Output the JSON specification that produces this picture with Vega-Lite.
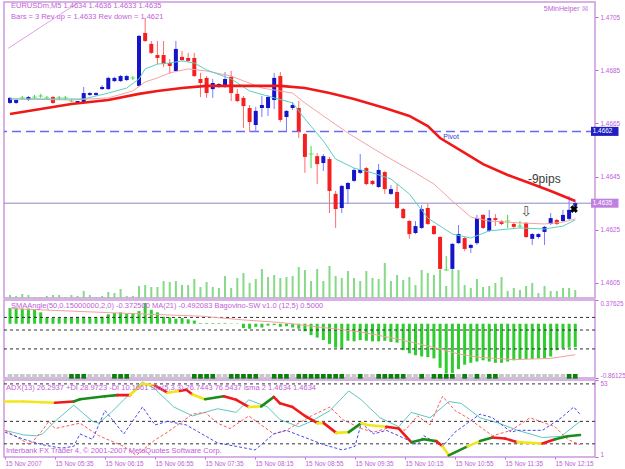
{
  "$schema": "https://vega.github.io/schema/vega-lite/v6.json",
  "background": "white",
  "padding": {"left": 2, "top": 1, "right": 0, "bottom": 0},
  "spacing": 2,
  "bounds": "flush",
  "config": {
    "font": "Liberation Sans",
    "view": {"stroke": "#cc99dd", "strokeWidth": 1.5},
    "axis": {"labelFont": "Liberation Sans", "labelFontSize": 6.4, "labelColor": "#c060d8", "tickColor": "#c060d8", "domain": false, "grid": false, "labelOverlap": false, "tickSize": 3, "labelPadding": 2}
  },
  "datasets": {
    "bars": [
      {"i":0,"o":1.46727,"h":1.46749,"l":1.46723,"c":1.46746,"v":9,"a":0.25,"s":0},
      {"i":1,"o":1.46727,"h":1.46742,"l":1.46723,"c":1.46738,"v":6,"a":0.25,"s":0},
      {"i":2,"o":1.46746,"h":1.46753,"l":1.46738,"c":1.46746,"v":12,"a":0.24,"s":0},
      {"i":3,"o":1.46738,"h":1.46753,"l":1.46734,"c":1.46749,"v":9,"a":0.24,"s":0},
      {"i":4,"o":1.46749,"h":1.46757,"l":1.46742,"c":1.46749,"v":3,"a":0.23,"s":0},
      {"i":5,"o":1.46753,"h":1.46761,"l":1.46746,"c":1.46753,"v":3,"a":0.18,"s":0},
      {"i":6,"o":1.46746,"h":1.46753,"l":1.46738,"c":1.46746,"v":6,"a":0.10,"s":0},
      {"i":7,"o":1.46749,"h":1.46753,"l":1.46723,"c":1.46727,"v":9,"a":0.09,"s":0},
      {"i":8,"o":1.46746,"h":1.46753,"l":1.46738,"c":1.46746,"v":9,"a":0.09,"s":0},
      {"i":9,"o":1.46746,"h":1.46753,"l":1.46738,"c":1.46746,"v":3,"a":0.10,"s":0},
      {"i":10,"o":1.46734,"h":1.46742,"l":1.46730,"c":1.46734,"v":9,"a":0.10,"s":1},
      {"i":11,"o":1.46727,"h":1.46734,"l":1.46723,"c":1.46734,"v":6,"a":0.11,"s":1},
      {"i":12,"o":1.46727,"h":1.46787,"l":1.46723,"c":1.46764,"v":21,"a":0.11,"s":1},
      {"i":13,"o":1.46757,"h":1.46768,"l":1.46753,"c":1.46764,"v":9,"a":0.10,"s":0},
      {"i":14,"o":1.46757,"h":1.46768,"l":1.46753,"c":1.46764,"v":3,"a":0.10,"s":0},
      {"i":15,"o":1.46779,"h":1.46794,"l":1.46776,"c":1.46787,"v":6,"a":0.11,"s":0},
      {"i":16,"o":1.46779,"h":1.46825,"l":1.46776,"c":1.46821,"v":18,"a":0.15,"s":0},
      {"i":17,"o":1.46809,"h":1.46825,"l":1.46806,"c":1.46821,"v":15,"a":0.17,"s":1},
      {"i":18,"o":1.46809,"h":1.46832,"l":1.46806,"c":1.46828,"v":27,"a":0.18,"s":1},
      {"i":19,"o":1.46813,"h":1.46832,"l":1.46809,"c":1.46828,"v":6,"a":0.16,"s":1},
      {"i":20,"o":1.46821,"h":1.46828,"l":1.46813,"c":1.46821,"v":6,"a":0.17,"s":0},
      {"i":21,"o":1.46791,"h":1.46982,"l":1.46787,"c":1.46979,"v":36,"a":0.20,"s":0},
      {"i":22,"o":1.46990,"h":1.47046,"l":1.46956,"c":1.46960,"v":39,"a":0.33,"s":0},
      {"i":23,"o":1.46949,"h":1.46960,"l":1.46911,"c":1.46915,"v":33,"a":0.22,"s":0},
      {"i":24,"o":1.46907,"h":1.46960,"l":1.46873,"c":1.46896,"v":33,"a":0.18,"s":0},
      {"i":25,"o":1.46907,"h":1.46960,"l":1.46862,"c":1.46873,"v":51,"a":0.11,"s":0},
      {"i":26,"o":1.46877,"h":1.46892,"l":1.46836,"c":1.46866,"v":48,"a":0.10,"s":0},
      {"i":27,"o":1.46847,"h":1.46960,"l":1.46843,"c":1.46930,"v":51,"a":0.08,"s":0},
      {"i":28,"o":1.46900,"h":1.46922,"l":1.46885,"c":1.46888,"v":39,"a":0.09,"s":0},
      {"i":29,"o":1.46896,"h":1.46915,"l":1.46881,"c":1.46885,"v":39,"a":0.07,"s":0},
      {"i":30,"o":1.46896,"h":1.46915,"l":1.46825,"c":1.46828,"v":57,"a":0.05,"s":1},
      {"i":31,"o":1.46817,"h":1.46840,"l":1.46749,"c":1.46802,"v":33,"a":0.01,"s":1},
      {"i":32,"o":1.46821,"h":1.46828,"l":1.46746,"c":1.46764,"v":48,"a":0.01,"s":1},
      {"i":33,"o":1.46779,"h":1.46817,"l":1.46746,"c":1.46802,"v":33,"a":0.01,"s":1},
      {"i":34,"o":1.46787,"h":1.46802,"l":1.46783,"c":1.46798,"v":30,"a":0.01,"s":0},
      {"i":35,"o":1.46787,"h":1.46843,"l":1.46783,"c":1.46817,"v":66,"a":0.01,"s":0},
      {"i":36,"o":1.46825,"h":1.46847,"l":1.46734,"c":1.46764,"v":30,"a":0.005,"s":1},
      {"i":37,"o":1.46761,"h":1.46779,"l":1.46730,"c":1.46734,"v":60,"a":0.005,"s":1},
      {"i":38,"o":1.46746,"h":1.46753,"l":1.46633,"c":1.46715,"v":75,"a":-0.07,"s":1},
      {"i":39,"o":1.46708,"h":1.46719,"l":1.46618,"c":1.46655,"v":45,"a":-0.08,"s":1},
      {"i":40,"o":1.46644,"h":1.46712,"l":1.46618,"c":1.46697,"v":57,"a":-0.05,"s":1},
      {"i":41,"o":1.46708,"h":1.46753,"l":1.46674,"c":1.46719,"v":87,"a":-0.06,"s":0},
      {"i":42,"o":1.46708,"h":1.46757,"l":1.46678,"c":1.46749,"v":63,"a":-0.03,"s":0},
      {"i":43,"o":1.46738,"h":1.46840,"l":1.46704,"c":1.46821,"v":69,"a":-0.02,"s":1},
      {"i":44,"o":1.46828,"h":1.46843,"l":1.46655,"c":1.46663,"v":60,"a":-0.05,"s":1},
      {"i":45,"o":1.46674,"h":1.46700,"l":1.46621,"c":1.46697,"v":63,"a":-0.04,"s":1},
      {"i":46,"o":1.46708,"h":1.46730,"l":1.46700,"c":1.46719,"v":66,"a":-0.06,"s":0},
      {"i":47,"o":1.46708,"h":1.46734,"l":1.46595,"c":1.46621,"v":93,"a":-0.08,"s":1},
      {"i":48,"o":1.46610,"h":1.46614,"l":1.46464,"c":1.46524,"v":84,"a":-0.12,"s":1},
      {"i":49,"o":1.46535,"h":1.46565,"l":1.46482,"c":1.46535,"v":51,"a":-0.18,"s":1},
      {"i":50,"o":1.46527,"h":1.46539,"l":1.46422,"c":1.46497,"v":87,"a":-0.22,"s":1},
      {"i":51,"o":1.46501,"h":1.46535,"l":1.46471,"c":1.46527,"v":51,"a":-0.26,"s":1},
      {"i":52,"o":1.46516,"h":1.46524,"l":1.46313,"c":1.46396,"v":96,"a":-0.32,"s":1},
      {"i":53,"o":1.46385,"h":1.46396,"l":1.46257,"c":1.46328,"v":66,"a":-0.38,"s":1},
      {"i":54,"o":1.46332,"h":1.46418,"l":1.46313,"c":1.46415,"v":60,"a":-0.40,"s":1},
      {"i":55,"o":1.46403,"h":1.46430,"l":1.46347,"c":1.46426,"v":81,"a":-0.27,"s":0},
      {"i":56,"o":1.46434,"h":1.46482,"l":1.46430,"c":1.46475,"v":60,"a":-0.28,"s":0},
      {"i":57,"o":1.46464,"h":1.46535,"l":1.46460,"c":1.46475,"v":51,"a":-0.26,"s":1},
      {"i":58,"o":1.46482,"h":1.46486,"l":1.46418,"c":1.46422,"v":81,"a":-0.27,"s":0},
      {"i":59,"o":1.46434,"h":1.46437,"l":1.46418,"c":1.46422,"v":60,"a":-0.28,"s":0},
      {"i":60,"o":1.46411,"h":1.46497,"l":1.46407,"c":1.46475,"v":57,"a":-0.28,"s":1},
      {"i":61,"o":1.46467,"h":1.46471,"l":1.46385,"c":1.46403,"v":105,"a":-0.27,"s":1},
      {"i":62,"o":1.46385,"h":1.46418,"l":1.46381,"c":1.46403,"v":51,"a":-0.29,"s":1},
      {"i":63,"o":1.46392,"h":1.46422,"l":1.46328,"c":1.46332,"v":69,"a":-0.30,"s":1},
      {"i":64,"o":1.46328,"h":1.46332,"l":1.46291,"c":1.46294,"v":54,"a":-0.42,"s":1},
      {"i":65,"o":1.46283,"h":1.46287,"l":1.46216,"c":1.46234,"v":63,"a":-0.47,"s":0},
      {"i":66,"o":1.46238,"h":1.46283,"l":1.46234,"c":1.46264,"v":39,"a":-0.50,"s":0},
      {"i":67,"o":1.46257,"h":1.46343,"l":1.46253,"c":1.46328,"v":84,"a":-0.52,"s":1},
      {"i":68,"o":1.46332,"h":1.46347,"l":1.46268,"c":1.46272,"v":75,"a":-0.53,"s":0},
      {"i":69,"o":1.46264,"h":1.46268,"l":1.46231,"c":1.46234,"v":69,"a":-0.55,"s":1},
      {"i":70,"o":1.46223,"h":1.46227,"l":1.46099,"c":1.46103,"v":84,"a":-0.70,"s":1},
      {"i":71,"o":1.46099,"h":1.46152,"l":1.46095,"c":1.46099,"v":36,"a":-0.79,"s":1},
      {"i":72,"o":1.46103,"h":1.46200,"l":1.46099,"c":1.46197,"v":84,"a":-0.78,"s":1},
      {"i":73,"o":1.46200,"h":1.46268,"l":1.46197,"c":1.46234,"v":84,"a":-0.72,"s":0},
      {"i":74,"o":1.46219,"h":1.46223,"l":1.46170,"c":1.46178,"v":39,"a":-0.65,"s":1},
      {"i":75,"o":1.46182,"h":1.46197,"l":1.46163,"c":1.46193,"v":30,"a":-0.62,"s":0},
      {"i":76,"o":1.46200,"h":1.46306,"l":1.46193,"c":1.46294,"v":57,"a":-0.60,"s":1},
      {"i":77,"o":1.46306,"h":1.46309,"l":1.46253,"c":1.46257,"v":33,"a":-0.58,"s":0},
      {"i":78,"o":1.46246,"h":1.46325,"l":1.46242,"c":1.46294,"v":36,"a":-0.60,"s":1},
      {"i":79,"o":1.46294,"h":1.46309,"l":1.46264,"c":1.46287,"v":45,"a":-0.62,"s":1},
      {"i":80,"o":1.46283,"h":1.46287,"l":1.46268,"c":1.46272,"v":63,"a":-0.62,"s":0},
      {"i":81,"o":1.46283,"h":1.46306,"l":1.46257,"c":1.46283,"v":21,"a":-0.60,"s":0},
      {"i":82,"o":1.46272,"h":1.46276,"l":1.46257,"c":1.46261,"v":30,"a":-0.58,"s":0},
      {"i":83,"o":1.46264,"h":1.46283,"l":1.46257,"c":1.46264,"v":24,"a":-0.56,"s":0},
      {"i":84,"o":1.46276,"h":1.46279,"l":1.46219,"c":1.46223,"v":36,"a":-0.56,"s":0},
      {"i":85,"o":1.46216,"h":1.46238,"l":1.46193,"c":1.46234,"v":45,"a":-0.56,"s":0},
      {"i":86,"o":1.46223,"h":1.46238,"l":1.46216,"c":1.46234,"v":15,"a":-0.55,"s":0},
      {"i":87,"o":1.46242,"h":1.46264,"l":1.46193,"c":1.46261,"v":36,"a":-0.55,"s":0},
      {"i":88,"o":1.46272,"h":1.46313,"l":1.46268,"c":1.46294,"v":21,"a":-0.52,"s":0},
      {"i":89,"o":1.46287,"h":1.46291,"l":1.46268,"c":1.46272,"v":21,"a":-0.42,"s":0},
      {"i":90,"o":1.46283,"h":1.46325,"l":1.46279,"c":1.46306,"v":30,"a":-0.39,"s":0},
      {"i":91,"o":1.46291,"h":1.46377,"l":1.46287,"c":1.46325,"v":30,"a":-0.38,"s":1},
      {"i":92,"o":1.4634,"h":1.4636,"l":1.4633,"c":1.4635,"v":24,"a":-0.3725,"s":1}
    ],
    "ma": [
      {"s":"slow","i":0,"p":1.46685},{"s":"slow","i":5,"p":1.46704},{"s":"slow","i":10,"p":1.46723},{"s":"slow","i":16,"p":1.46738},
      {"s":"slow","i":21,"p":1.46761},{"s":"slow","i":24,"p":1.46772},{"s":"slow","i":28,"p":1.46783},{"s":"slow","i":32,"p":1.46791},
      {"s":"slow","i":36,"p":1.46791},{"s":"slow","i":44,"p":1.46791},{"s":"slow","i":48,"p":1.46783},{"s":"slow","i":52,"p":1.46764},
      {"s":"slow","i":56,"p":1.46742},{"s":"slow","i":61,"p":1.46708},{"s":"slow","i":65,"p":1.46678},{"s":"slow","i":68,"p":1.46640},
      {"s":"slow","i":70,"p":1.46595},{"s":"slow","i":74,"p":1.46539},{"s":"slow","i":77,"p":1.46497},{"s":"slow","i":81,"p":1.46456},
      {"s":"slow","i":85,"p":1.46422},{"s":"slow","i":88,"p":1.46396},{"s":"slow","i":90,"p":1.46377},{"s":"slow","i":92,"p":1.46358},
      {"s":"mid","i":0,"p":1.46742},{"s":"mid","i":10,"p":1.46738},{"s":"mid","i":16,"p":1.46746},{"s":"mid","i":20,"p":1.46772},
      {"s":"mid","i":22,"p":1.46806},{"s":"mid","i":24,"p":1.46821},{"s":"mid","i":26,"p":1.46840},{"s":"mid","i":29,"p":1.46855},
      {"s":"mid","i":32,"p":1.46847},{"s":"mid","i":36,"p":1.46828},{"s":"mid","i":41,"p":1.46783},{"s":"mid","i":46,"p":1.46764},
      {"s":"mid","i":48,"p":1.46727},{"s":"mid","i":51,"p":1.46678},{"s":"mid","i":55,"p":1.46614},{"s":"mid","i":59,"p":1.46557},
      {"s":"mid","i":62,"p":1.46516},{"s":"mid","i":66,"p":1.46464},{"s":"mid","i":69,"p":1.46422},{"s":"mid","i":72,"p":1.46358},
      {"s":"mid","i":75,"p":1.46298},{"s":"mid","i":78,"p":1.46283},{"s":"mid","i":83,"p":1.46276},{"s":"mid","i":87,"p":1.46272},
      {"s":"mid","i":90,"p":1.46279},{"s":"mid","i":92,"p":1.46291},
      {"s":"fast","i":0,"p":1.46742},{"s":"fast","i":12,"p":1.46742},{"s":"fast","i":16,"p":1.46764},{"s":"fast","i":19,"p":1.46783},
      {"s":"fast","i":21,"p":1.46817},{"s":"fast","i":22,"p":1.46855},{"s":"fast","i":24,"p":1.46873},{"s":"fast","i":26,"p":1.46877},
      {"s":"fast","i":28,"p":1.46885},{"s":"fast","i":30,"p":1.46877},{"s":"fast","i":32,"p":1.46851},{"s":"fast","i":36,"p":1.46817},
      {"s":"fast","i":39,"p":1.46772},{"s":"fast","i":43,"p":1.46746},{"s":"fast","i":46,"p":1.46727},{"s":"fast","i":48,"p":1.46667},
      {"s":"fast","i":51,"p":1.46584},{"s":"fast","i":53,"p":1.46516},{"s":"fast","i":56,"p":1.46482},{"s":"fast","i":59,"p":1.46464},
      {"s":"fast","i":62,"p":1.46441},{"s":"fast","i":65,"p":1.46385},{"s":"fast","i":68,"p":1.46294},{"s":"fast","i":72,"p":1.46234},
      {"s":"fast","i":75,"p":1.46219},{"s":"fast","i":78,"p":1.46246},{"s":"fast","i":83,"p":1.46257},{"s":"fast","i":87,"p":1.46253},
      {"s":"fast","i":90,"p":1.46264},{"s":"fast","i":92,"p":1.46287}
    ],
    "trend": [{"i":-0.3,"p":1.46932},{"i":12.5,"p":1.47125}],
    "ma21": [
      {"i":0,"a":0.24},{"i":10,"a":0.2},{"i":20,"a":0.16},{"i":31,"a":0.12},{"i":38,"a":0.06},{"i":44,"a":0.02},
      {"i":50,"a":-0.05},{"i":57,"a":-0.13},{"i":63,"a":-0.24},{"i":70,"a":-0.40},{"i":73,"a":-0.48},{"i":76,"a":-0.53},
      {"i":82,"a":-0.57},{"i":88,"a":-0.55},{"i":92,"a":-0.492083}
    ],
    "adx": [
      {"i":0,"v":38.2,"k":"y"},{"i":3,"v":38.2,"k":"y"},{"i":6,"v":37.7,"k":"y"},{"i":8,"v":37.4,"k":"r"},{"i":11,"v":38.2,"k":"g"},
      {"i":12,"v":39.8,"k":"g"},{"i":16,"v":41.7,"k":"g"},{"i":18,"v":42.5,"k":"r"},{"i":20,"v":42.5,"k":"y"},{"i":22,"v":50.1,"k":"y"},
      {"i":24,"v":48.9,"k":"r"},{"i":26,"v":44.1,"k":"y"},{"i":28,"v":45.3,"k":"r"},{"i":29,"v":46.1,"k":"r"},{"i":30,"v":42.9,"k":"y"},
      {"i":32,"v":39.8,"k":"g"},{"i":35,"v":41.7,"k":"r"},{"i":37,"v":39.4,"k":"r"},{"i":39,"v":34.6,"k":"y"},{"i":41,"v":35,"k":"g"},
      {"i":43,"v":41.3,"k":"r"},{"i":44,"v":37,"k":"r"},{"i":46,"v":34.6,"k":"r"},{"i":48,"v":28.6,"k":"r"},{"i":50,"v":23.8,"k":"y"},
      {"i":51,"v":23.8,"k":"r"},{"i":53,"v":17.3,"k":"y"},{"i":55,"v":17.8,"k":"g"},{"i":57,"v":23.8,"k":"y"},{"i":58,"v":22.6,"k":"y"},
      {"i":61,"v":21.4,"k":"r"},{"i":63,"v":20.2,"k":"r"},{"i":65,"v":11.1,"k":"g"},{"i":67,"v":13,"k":"g"},{"i":69,"v":11.8,"k":"r"},
      {"i":70,"v":8.3,"k":"y"},{"i":71,"v":2.3,"k":"g"},{"i":74,"v":8.3,"k":"y"},{"i":76,"v":11.8,"k":"g"},{"i":78,"v":14.2,"k":"r"},
      {"i":80,"v":13.5,"k":"r"},{"i":82,"v":11.1,"k":"y"},{"i":86,"v":10.2,"k":"r"},{"i":88,"v":13,"k":"g"},{"i":90,"v":15,"k":"g"},
      {"i":92,"v":15.9,"k":"g"}
    ],
    "di": [
      {"s":"plus","i":0,"v":19},{"s":"plus","i":3,"v":15.9},{"s":"plus","i":5,"v":15.4},{"s":"plus","i":6,"v":16.6},{"s":"plus","i":8,"v":25},
      {"s":"plus","i":11,"v":35.8},{"s":"plus","i":14,"v":25},{"s":"plus","i":15,"v":23.8},{"s":"plus","i":17,"v":31},{"s":"plus","i":19,"v":39.4},
      {"s":"plus","i":22,"v":51.3},{"s":"plus","i":24,"v":46.5},{"s":"plus","i":27,"v":34.6},{"s":"plus","i":30,"v":28.6},{"s":"plus","i":31,"v":29.8},
      {"s":"plus","i":34,"v":33.4},{"s":"plus","i":37,"v":31},{"s":"plus","i":39,"v":39.4},{"s":"plus","i":42,"v":34.6},{"s":"plus","i":44,"v":26.2},
      {"s":"plus","i":47,"v":21.4},{"s":"plus","i":49,"v":25},{"s":"plus","i":52,"v":32.2},{"s":"plus","i":55,"v":45.3},{"s":"plus","i":57,"v":39.4},
      {"s":"plus","i":60,"v":27.4},{"s":"plus","i":63,"v":21.4},{"s":"plus","i":65,"v":31},{"s":"plus","i":68,"v":27.4},{"s":"plus","i":71,"v":38.2},
      {"s":"plus","i":73,"v":37},{"s":"plus","i":76,"v":27.4},{"s":"plus","i":79,"v":23.8},{"s":"plus","i":82,"v":19},{"s":"plus","i":86,"v":14.2},
      {"s":"plus","i":89,"v":15},{"s":"plus","i":92,"v":25},
      {"s":"minus","i":0,"v":19},{"s":"minus","i":2,"v":14.2},{"s":"minus","i":4,"v":9.4},{"s":"minus","i":6,"v":19},{"s":"minus","i":7,"v":25},
      {"s":"minus","i":8,"v":20.2},{"s":"minus","i":12,"v":23.8},{"s":"minus","i":15,"v":15.4},{"s":"minus","i":19,"v":8.3},{"s":"minus","i":21,"v":2.3},
      {"s":"minus","i":24,"v":12.6},{"s":"minus","i":26,"v":17.8},{"s":"minus","i":28,"v":23.8},{"s":"minus","i":30,"v":29.8},{"s":"minus","i":32,"v":31},
      {"s":"minus","i":34,"v":23.8},{"s":"minus","i":36,"v":20.2},{"s":"minus","i":39,"v":28.6},{"s":"minus","i":41,"v":22.6},{"s":"minus","i":43,"v":16.6},
      {"s":"minus","i":45,"v":19},{"s":"minus","i":47,"v":23.8},{"s":"minus","i":49,"v":28.6},{"s":"minus","i":52,"v":34.6},{"s":"minus","i":54,"v":26.2},
      {"s":"minus","i":57,"v":20.2},{"s":"minus","i":59,"v":17.8},{"s":"minus","i":62,"v":21.4},{"s":"minus","i":64,"v":19},{"s":"minus","i":66,"v":28.6},
      {"s":"minus","i":68,"v":22.6},{"s":"minus","i":70,"v":41.7},{"s":"minus","i":72,"v":32.2},{"s":"minus","i":74,"v":27.4},{"s":"minus","i":78,"v":15.4},
      {"s":"minus","i":81,"v":19},{"s":"minus","i":84,"v":27.4},{"s":"minus","i":88,"v":21.4},{"s":"minus","i":90,"v":13},{"s":"minus","i":92,"v":9.4},
      {"s":"sto","i":0,"v":17.8},{"s":"sto","i":3,"v":13},{"s":"sto","i":6,"v":9.4},{"s":"sto","i":9,"v":7.1},{"s":"sto","i":11,"v":8.3},
      {"s":"sto","i":12,"v":16.6},{"s":"sto","i":14,"v":13},{"s":"sto","i":16,"v":32.2},{"s":"sto","i":19,"v":16.6},{"s":"sto","i":22,"v":34.6},
      {"s":"sto","i":24,"v":22.6},{"s":"sto","i":26,"v":25},{"s":"sto","i":29,"v":22.6},{"s":"sto","i":31,"v":17.8},{"s":"sto","i":34,"v":10.6},
      {"s":"sto","i":37,"v":8.3},{"s":"sto","i":40,"v":5.9},{"s":"sto","i":43,"v":16.6},{"s":"sto","i":45,"v":19},{"s":"sto","i":48,"v":14.2},
      {"s":"sto","i":51,"v":9.4},{"s":"sto","i":54,"v":5.9},{"s":"sto","i":56,"v":8.3},{"s":"sto","i":57,"v":23.8},{"s":"sto","i":59,"v":16.6},
      {"s":"sto","i":61,"v":19},{"s":"sto","i":63,"v":15.4},{"s":"sto","i":66,"v":9.4},{"s":"sto","i":67,"v":15.4},{"s":"sto","i":70,"v":8.3},
      {"s":"sto","i":72,"v":17.8},{"s":"sto","i":74,"v":23.8},{"s":"sto","i":76,"v":29.8},{"s":"sto","i":78,"v":27.4},{"s":"sto","i":81,"v":17.8},
      {"s":"sto","i":82,"v":19},{"s":"sto","i":86,"v":19},{"s":"sto","i":89,"v":27.4},{"s":"sto","i":91,"v":34.6},{"s":"sto","i":92,"v":29.8}
    ]
  },
  "vconcat": [
    {
      "width": 591,
      "height": 296,
      "resolve": {"scale": {"y": "independent"}},
      "layer": [
        {
          "data": {"name": "bars"},
          "mark": {"type": "rule", "strokeWidth": 2, "color": "#86d986"},
          "encoding": {
            "x": {"field": "i", "type": "quantitative", "scale": {"domain": [-0.16, 94.4], "nice": false, "zero": false}, "axis": null},
            "y": {"field": "v", "type": "quantitative", "scale": {"domain": [0, 888], "nice": false}, "axis": null},
            "y2": {"datum": 0}
          }
        },
        {
          "layer": [
            {
              "data": {"name": "trend"},
              "mark": {"type": "line", "color": "#e0a0e8", "strokeWidth": 1, "clip": true},
              "encoding": {
                "x": {"field": "i", "type": "quantitative", "scale": {"domain": [-0.16, 94.4], "nice": false, "zero": false}, "axis": null},
                "y": {"field": "p", "type": "quantitative", "scale": {"domain": [1.459936, 1.471064], "nice": false, "zero": false},
                  "axis": {"orient": "right", "values": [1.4605, 1.4615, 1.4625, 1.4635, 1.4645, 1.4655, 1.4665, 1.4675, 1.4685, 1.4695, 1.4705], "format": ".4f", "tickSize": 3, "title": null}}
              }
            },
            {
              "data": {"values": [{}]},
              "mark": {"type": "rule", "color": "#6a6af0", "strokeWidth": 1.5, "strokeDash": [9, 5]},
              "encoding": {"y": {"datum": 1.4662, "type": "quantitative"}}
            },
            {
              "data": {"values": [{}]},
              "mark": {"type": "rule", "color": "#8a8ac8", "strokeWidth": 1},
              "encoding": {"y": {"datum": 1.4635, "type": "quantitative"}}
            },
            {
              "data": {"name": "bars"},
              "mark": {"type": "rule", "strokeWidth": 1},
              "encoding": {
                "x": {"field": "i", "type": "quantitative"},
                "y": {"field": "l", "type": "quantitative"},
                "y2": {"field": "h"},
                "color": {"condition": [{"test": "datum.c > datum.o", "value": "#7b7bff"}, {"test": "datum.c < datum.o", "value": "#ff6b6b"}], "value": "#3cd83c"}
              }
            },
            {
              "data": {"name": "bars"},
              "transform": [{"filter": "datum.c != datum.o"}],
              "mark": {"type": "bar", "width": 4},
              "encoding": {
                "x": {"field": "i", "type": "quantitative"},
                "y": {"field": "o", "type": "quantitative"},
                "y2": {"field": "c"},
                "color": {"condition": {"test": "datum.c > datum.o", "value": "#1414c8"}, "value": "#f42020"}
              }
            },
            {
              "data": {"name": "bars"},
              "transform": [{"filter": "datum.c == datum.o"}],
              "mark": {"type": "tick", "orient": "horizontal", "size": 5, "thickness": 1, "color": "#3cd83c"},
              "encoding": {
                "x": {"field": "i", "type": "quantitative"},
                "y": {"field": "o", "type": "quantitative"}
              }
            },
            {
              "data": {"name": "ma"},
              "transform": [{"filter": "datum.s == 'mid'"}],
              "mark": {"type": "line", "color": "#f4a4a4", "strokeWidth": 1},
              "encoding": {"x": {"field": "i", "type": "quantitative"}, "y": {"field": "p", "type": "quantitative"}}
            },
            {
              "data": {"name": "ma"},
              "transform": [{"filter": "datum.s == 'fast'"}],
              "mark": {"type": "line", "color": "#5ccfc4", "strokeWidth": 1},
              "encoding": {"x": {"field": "i", "type": "quantitative"}, "y": {"field": "p", "type": "quantitative"}}
            },
            {
              "data": {"name": "ma"},
              "transform": [{"filter": "datum.s == 'slow'"}],
              "mark": {"type": "line", "color": "#f01818", "strokeWidth": 2.6},
              "encoding": {"x": {"field": "i", "type": "quantitative"}, "y": {"field": "p", "type": "quantitative"}}
            },
            {
              "data": {"values": [{}]},
              "mark": {"type": "point", "shape": "cross", "angle": 45, "size": 60, "filled": true, "color": "#000000", "opacity": 1},
              "encoding": {"x": {"datum": 91.8, "type": "quantitative"}, "y": {"datum": 1.46328, "type": "quantitative"}}
            },
            {
              "data": {"values": [{}]},
              "mark": {"type": "text", "font": "DejaVu Sans", "fontSize": 14, "color": "#555555", "baseline": "middle"},
              "encoding": {"x": {"datum": 84, "type": "quantitative"}, "y": {"datum": 1.46317, "type": "quantitative"}, "text": {"value": "⇩"}}
            },
            {
              "data": {"values": [{}]},
              "mark": {"type": "text", "fontSize": 12, "color": "#3a3a3a", "baseline": "middle"},
              "encoding": {"x": {"datum": 86.96, "type": "quantitative"}, "y": {"datum": 1.46441, "type": "quantitative"}, "text": {"value": "-9pips"}}
            },
            {
              "data": {"values": [{}]},
              "mark": {"type": "text", "fontSize": 7, "color": "#3535d5", "baseline": "middle"},
              "encoding": {"x": {"datum": 71.8, "type": "quantitative"}, "y": {"datum": 1.46599, "type": "quantitative"}, "text": {"value": "Pivot"}}
            },
            {
              "data": {"values": [{}]},
              "mark": {"type": "text", "fontSize": 7.5, "color": "#c060d8", "align": "left", "baseline": "middle"},
              "encoding": {"x": {"datum": 0.16, "type": "quantitative"}, "y": {"datum": 1.470914, "type": "quantitative"}, "text": {"value": "EURUSDm,M5  1.4634 1.4636 1.4633 1.4635"}}
            },
            {
              "data": {"values": [{}]},
              "mark": {"type": "text", "fontSize": 7.5, "color": "#c060d8", "align": "left", "baseline": "middle"},
              "encoding": {"x": {"datum": 0.16, "type": "quantitative"}, "y": {"datum": 1.4705, "type": "quantitative"}, "text": {"value": "Bars = 3 Rev up =  1.4633 Rev down = 1.4621"}}
            },
            {
              "data": {"values": [{}]},
              "mark": {"type": "text", "fontSize": 7, "color": "#c060d8", "align": "right", "baseline": "middle"},
              "encoding": {"x": {"datum": 94.0, "type": "quantitative"}, "y": {"datum": 1.4708, "type": "quantitative"}, "text": {"value": "5MinHelper ☒"}}
            },
            {
              "data": {"values": [{}]},
              "mark": {"type": "rect", "color": "#2020c0", "clip": false},
              "encoding": {"x": {"datum": 94.56, "type": "quantitative"}, "x2": {"datum": 99.04}, "y": {"datum": 1.46603, "type": "quantitative"}, "y2": {"datum": 1.46637}}
            },
            {
              "data": {"values": [{}]},
              "mark": {"type": "text", "fontSize": 6.4, "color": "#ffffff", "align": "left", "baseline": "middle", "clip": false},
              "encoding": {"x": {"datum": 94.85, "type": "quantitative"}, "y": {"datum": 1.4662, "type": "quantitative"}, "text": {"value": "1.4662"}}
            },
            {
              "data": {"values": [{}]},
              "mark": {"type": "rect", "color": "#c080e0", "clip": false},
              "encoding": {"x": {"datum": 94.56, "type": "quantitative"}, "x2": {"datum": 99.04}, "y": {"datum": 1.46333, "type": "quantitative"}, "y2": {"datum": 1.46367}}
            },
            {
              "data": {"values": [{}]},
              "mark": {"type": "text", "fontSize": 6.4, "color": "#ffffff", "align": "left", "baseline": "middle", "clip": false},
              "encoding": {"x": {"datum": 94.85, "type": "quantitative"}, "y": {"datum": 1.4635, "type": "quantitative"}, "text": {"value": "1.4635"}}
            }
          ]
        }
      ]
    },
    {
      "width": 591,
      "height": 78,
      "layer": [
        {
          "data": {"name": "bars"},
          "mark": {"type": "bar", "width": 3, "color": "#2ecc2e"},
          "encoding": {
            "x": {"field": "i", "type": "quantitative", "scale": {"domain": [-0.16, 94.4], "nice": false, "zero": false}, "axis": null},
            "y": {"field": "a", "type": "quantitative", "scale": {"domain": [-0.86125, 0.37625], "nice": false, "zero": false},
              "axis": {"orient": "right", "values": [0.37625, 0.1, 0, -0.1, -0.4, -0.86125], "labelExpr": "datum.value == 0 ? '0.00' : toString(datum.value)", "labelFlush": true, "title": null}},
            "y2": {"datum": 0}
          }
        },
        {
          "data": {"values": [{}]},
          "mark": {"type": "rule", "color": "#303030", "strokeWidth": 1, "strokeDash": [3, 3]},
          "encoding": {"y": {"datum": 0.1, "type": "quantitative"}}
        },
        {
          "data": {"values": [{}]},
          "mark": {"type": "rule", "color": "#303030", "strokeWidth": 1, "strokeDash": [3, 3]},
          "encoding": {"y": {"datum": -0.1, "type": "quantitative"}}
        },
        {
          "data": {"values": [{}]},
          "mark": {"type": "rule", "color": "#303030", "strokeWidth": 1, "strokeDash": [3, 3]},
          "encoding": {"y": {"datum": -0.4, "type": "quantitative"}}
        },
        {
          "data": {"name": "ma21"},
          "mark": {"type": "line", "color": "#f4a0a0", "strokeWidth": 1},
          "encoding": {"x": {"field": "i", "type": "quantitative"}, "y": {"field": "a", "type": "quantitative"}}
        },
        {
          "data": {"name": "bars"},
          "mark": {"type": "point", "shape": "square", "filled": true, "size": 22, "opacity": 1},
          "encoding": {
            "x": {"field": "i", "type": "quantitative"},
            "y": {"datum": -0.835, "type": "quantitative"},
            "color": {"condition": {"test": "datum.s == 1", "value": "#0a800a"}, "value": "#c8c8c8"}
          }
        },
        {
          "data": {"values": [{}]},
          "mark": {"type": "text", "fontSize": 7.5, "color": "#c060d8", "align": "left", "baseline": "middle"},
          "encoding": {"x": {"datum": 0.16, "type": "quantitative"}, "y": {"datum": 0.281, "type": "quantitative"}, "text": {"value": "SMAAngle(50,0.15000000,2,0) -0.372500    MA(21) -0.492083   Bagovino-SW v1.0 (12,5) 0.5000"}}
        }
      ]
    },
    {
      "width": 591,
      "height": 77,
      "layer": [
        {
          "data": {"name": "di"},
          "transform": [{"filter": "datum.s == 'plus'"}],
          "mark": {"type": "line", "color": "#5cc8c0", "strokeWidth": 1},
          "encoding": {
            "x": {"field": "i", "type": "quantitative", "scale": {"domain": [-0.16, 94.4], "nice": false, "zero": false},
              "axis": {"orient": "bottom", "values": [0, 8, 16, 24, 32, 40, 48, 56, 64, 72, 80, 88], "labelExpr": "datum.value == 0 ? '15 Nov 2007' : '15 Nov ' + timeFormat(datetime(2007, 10, 15, 4, 55 + 5 * datum.value), '%H:%M')", "labelAlign": "left", "labelFlush": false, "tickSize": 2, "labelPadding": 1, "title": null}},
            "y": {"field": "v", "type": "quantitative", "scale": {"domain": [1.2, 52.6], "nice": false, "zero": false},
              "axis": {"orient": "right", "values": [52.6, 50, 25, 10, 1.2], "labelExpr": "datum.value == 52.6 ? '53' : datum.value == 1.2 ? '1' : toString(datum.value)", "labelFlush": true, "title": null}}
          }
        },
        {
          "data": {"values": [{}]},
          "mark": {"type": "rule", "color": "#303030", "strokeWidth": 1, "strokeDash": [3, 3]},
          "encoding": {"y": {"datum": 50, "type": "quantitative"}}
        },
        {
          "data": {"values": [{}]},
          "mark": {"type": "rule", "color": "#303030", "strokeWidth": 1, "strokeDash": [3, 3]},
          "encoding": {"y": {"datum": 25, "type": "quantitative"}}
        },
        {
          "data": {"values": [{}]},
          "mark": {"type": "rule", "color": "#303030", "strokeWidth": 1, "strokeDash": [3, 3]},
          "encoding": {"y": {"datum": 10, "type": "quantitative"}}
        },
        {
          "data": {"name": "di"},
          "transform": [{"filter": "datum.s == 'minus'"}],
          "mark": {"type": "line", "color": "#ff5a5a", "strokeWidth": 1, "strokeDash": [3, 2]},
          "encoding": {"x": {"field": "i", "type": "quantitative"}, "y": {"field": "v", "type": "quantitative"}}
        },
        {
          "data": {"name": "di"},
          "transform": [{"filter": "datum.s == 'sto'"}],
          "mark": {"type": "line", "color": "#4848f0", "strokeWidth": 1, "strokeDash": [3, 2]},
          "encoding": {"x": {"field": "i", "type": "quantitative"}, "y": {"field": "v", "type": "quantitative"}}
        },
        {
          "data": {"name": "adx"},
          "transform": [
            {"window": [{"op": "lead", "field": "v", "as": "v2"}, {"op": "lead", "field": "i", "as": "i2"}], "sort": [{"field": "i", "order": "ascending"}]},
            {"filter": "datum.i2 != null"}
          ],
          "mark": {"type": "rule", "strokeWidth": 2.6, "strokeCap": "round"},
          "encoding": {
            "x": {"field": "i", "type": "quantitative"},
            "x2": {"field": "i2"},
            "y": {"field": "v", "type": "quantitative"},
            "y2": {"field": "v2"},
            "color": {"field": "k", "type": "nominal", "scale": {"domain": ["g", "y", "r"], "range": ["#1a8c1a", "#f2e61a", "#f01a1a"]}, "legend": null}
          }
        },
        {
          "data": {"values": [{}]},
          "mark": {"type": "text", "fontSize": 7.5, "color": "#c060d8", "align": "left", "baseline": "middle"},
          "encoding": {"x": {"datum": 0.16, "type": "quantitative"}, "y": {"datum": 47.3, "type": "quantitative"}, "text": {"value": "ADX(13) 26.2937 +DI 28.9723 -DI 10.1661 Sto(5,3,3) 76.7443 76.5437 lsma 2 1.4634 1.4634"}}
        },
        {
          "data": {"values": [{}]},
          "mark": {"type": "text", "fontSize": 7.5, "color": "#c060d8", "align": "left", "baseline": "middle"},
          "encoding": {"x": {"datum": 0.16, "type": "quantitative"}, "y": {"datum": 5.2, "type": "quantitative"}, "text": {"value": "Interbank FX Trader 4, © 2001-2007 MetaQuotes Software Corp."}}
        }
      ]
    }
  ]
}
